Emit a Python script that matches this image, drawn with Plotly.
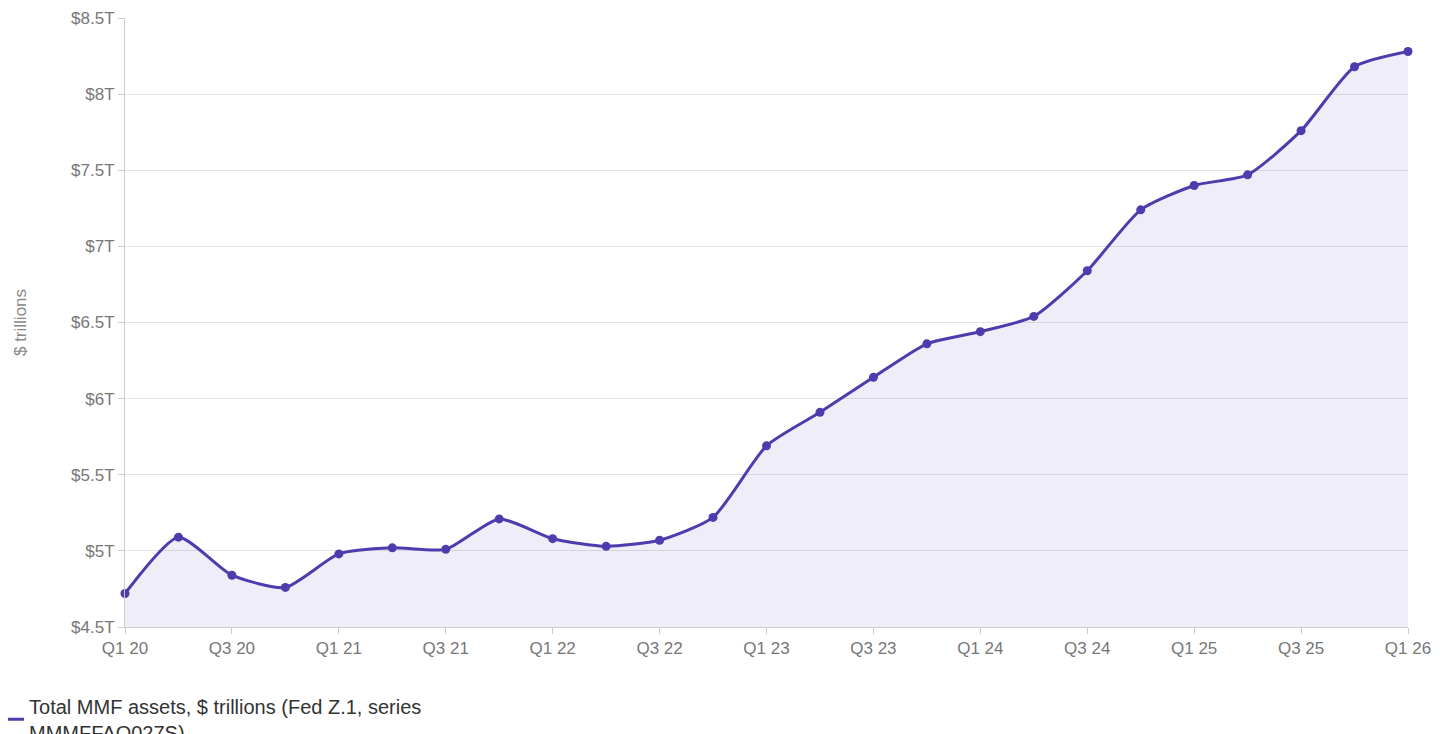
import plotly.graph_objects as go

quarters = [f"Q{q} {y}" for y in range(20, 27) for q in range(1, 5)][:25]
assets = [4.72, 5.09, 4.84, 4.76, 4.98, 5.02, 5.01, 5.21, 5.08, 5.03, 5.07, 5.22,
          5.69, 5.91, 6.14, 6.36, 6.44, 6.54, 6.84, 7.24, 7.40, 7.47, 7.76, 8.18, 8.28]
tick_labels = quarters[::2]
series_name = "Total MMF assets, $ trillions (Fed Z.1, series<br>MMMFFAQ027S)"

fig = go.Figure()
fig.add_trace(go.Scatter(
    x=quarters, y=assets, mode="lines+markers",
    line=dict(color="#4f3aae", width=3, shape="spline", smoothing=0.6),
    marker=dict(size=9, color="#4f3aae"),
    fill="tozeroy", fillcolor="rgba(79,58,174,0.09)",
    cliponaxis=False, showlegend=False,
))
# legend entry drawn as a plain line
fig.add_trace(go.Scatter(
    x=[None], y=[None], mode="lines", name=series_name,
    line=dict(color="#4f3aae", width=3),
))

fig.update_layout(
    width=1432, height=760,
    plot_bgcolor="white", paper_bgcolor="white",
    margin=dict(l=117, r=32, t=10, b=141, autoexpand=False),
    font=dict(family="Liberation Sans, Arial", size=17, color="#777"),
    showlegend=True,
    legend=dict(orientation="h", x=-0.106, y=-0.098, xanchor="left", yanchor="top",
                font=dict(size=20, color="#333"), itemwidth=30),
)
fig.update_xaxes(
    type="category", range=[0, 24], tickvals=tick_labels, ticktext=tick_labels,
    showgrid=False, showline=True, linecolor="#ccc", ticks="outside",
    tickcolor="#ccc", ticklen=6, automargin=False,
)
fig.update_yaxes(
    range=[4.5, 8.5], dtick=0.5, tickformat="$.2~f", ticksuffix="T",
    showgrid=True, gridcolor="#e3e3e3", showline=True, linecolor="#ccc",
    ticks="outside", tickcolor="#ccc", ticklen=6, automargin=False,
    title=dict(text="$ trillions", font=dict(size=17, color="#888"), standoff=40),
)

fig.write_html("out.html")
